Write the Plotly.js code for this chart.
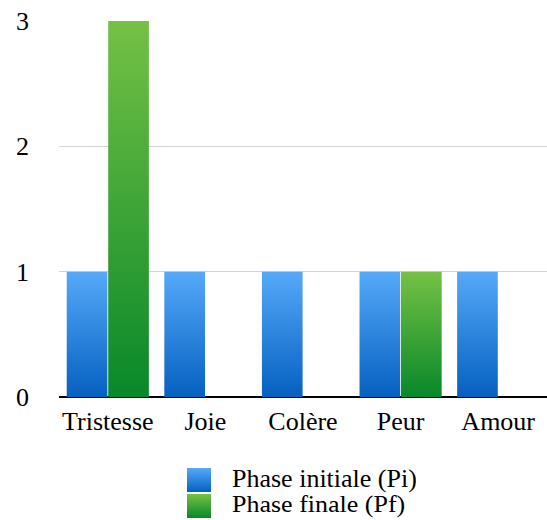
<!DOCTYPE html>
<html>
<head>
<meta charset="utf-8">
<script src="https://cdn.plot.ly/plotly-3.0.1.min.js"></script>
<style>
html,body{margin:0;padding:0;background:#fff;}
#chart{width:547px;height:520px;}
#chart svg text{font-family:"Liberation Serif","Times New Roman",serif !important;}
</style>
</head>
<body>
<div id="chart"></div>
<script>
var categories = ["Tristesse", "Joie", "Colère", "Peur", "Amour"];
var phaseInitiale = [1, 1, 1, 1, 1];
var phaseFinale = [3, 0, 0, 1, 0];
var seriesNames = ["Phase initiale (Pi)", "Phase finale (Pf)"];
var yTicks = [0, 1, 2, 3];

var font = "Liberation Serif";
var data = [
  {type: "bar", x: categories, y: phaseInitiale, name: seriesNames[0], marker: {color: "#2e86e0"}, hoverinfo: "none"},
  {type: "bar", x: categories, y: phaseFinale, name: seriesNames[1], marker: {color: "#3ea63a"}, hoverinfo: "none"}
];
var layout = {
  width: 547, height: 520,
  margin: {l: 59, r: 0, t: 21, b: 0},
  paper_bgcolor: "#fff", plot_bgcolor: "#fff",
  barmode: "group", bargap: 0.15, bargroupgap: 0.02,
  font: {family: font, color: "#000", size: 26},
  xaxis: {tickfont: {family: font, size: 26}, showgrid: false, zeroline: false, showline: false, ticks: "", ticklabelstandoff: 6, automargin: false},
  yaxis: {range: [0, 3], domain: [123 / 499, 1], tickvals: yTicks, tickfont: {family: font, size: 26}, showgrid: true, gridcolor: "#d4d4d4", gridwidth: 1,
          zeroline: true, zerolinecolor: "#000", zerolinewidth: 2, showline: false, ticks: "", ticklabelstandoff: 29, automargin: false},
  showlegend: true,
  legend: {orientation: "v", x: 0.26, xanchor: "left", y: 0, yanchor: "bottom",
           font: {family: font, size: 26}, tracegroupgap: 0}
};
Plotly.newPlot("chart", data, layout, {displayModeBar: false, staticPlot: true}).then(function (gd) {
  var svg = gd.querySelector("svg.main-svg");
  var ns = "http://www.w3.org/2000/svg";
  var defs = svg.querySelector("defs") || svg.insertBefore(document.createElementNS(ns, "defs"), svg.firstChild);
  function grad(id, top, bottom) {
    var g = document.createElementNS(ns, "linearGradient");
    g.setAttribute("id", id); g.setAttribute("x1", "0"); g.setAttribute("y1", "0"); g.setAttribute("x2", "0"); g.setAttribute("y2", "1");
    [[0, top], [1, bottom]].forEach(function (s) {
      var st = document.createElementNS(ns, "stop");
      st.setAttribute("offset", s[0]); st.setAttribute("stop-color", s[1]);
      g.appendChild(st);
    });
    defs.appendChild(g);
  }
  grad("gBlue", "#55a9f9", "#0560c0");
  grad("gGreen", "#75c145", "#08882a");
  var ids = ["gBlue", "gGreen"];
  gd.querySelectorAll(".barlayer .trace").forEach(function (t, i) {
    t.querySelectorAll("path").forEach(function (p) { p.style.fill = "url(#" + ids[i] + ")"; });
  });
  var rootRect = gd.getBoundingClientRect();
  var entries = gd.querySelectorAll(".legend .traces");
  entries.forEach(function (t, i) {
    var sym = null;
    t.querySelectorAll(".legendpoints path").forEach(function (p) {
      p.setAttribute("d", "M-12,-12H12V12H-12Z");
      p.style.fill = "url(#" + ids[i] + ")";
      p.style.stroke = "none";
      sym = p;
    });
    var tr = t.getAttribute("transform") || "";
    var m = tr.match(/translate\(\s*([-\d.]+)[ ,]+([-\d.]+)\s*\)/);
    if (!m || !sym) return;
    var x = parseFloat(m[1]), y = parseFloat(m[2]);
    var b = sym.getBoundingClientRect();
    var cx = b.left - rootRect.left, cy = (b.top + b.bottom) / 2 - rootRect.top;
    var nx = x + (187 - cx), ny = y + ((480 + 26 * i) - cy);
    t.setAttribute("transform", "translate(" + nx + "," + ny + ")");
    var txt = t.querySelector("text.legendtext");
    if (txt) {
      var tb = txt.getBoundingClientRect();
      var tl = tb.left - rootRect.left;
      var tx = parseFloat(txt.getAttribute("x") || "0");
      txt.setAttribute("x", tx + (232 - tl));
      var ty = (tb.top + tb.bottom) / 2 - rootRect.top;
      var tyAttr = parseFloat(txt.getAttribute("y") || "0");
      txt.setAttribute("y", tyAttr + ((478 + 26 * i) - ty));
    }
  });
});
</script>
</body>
</html>
